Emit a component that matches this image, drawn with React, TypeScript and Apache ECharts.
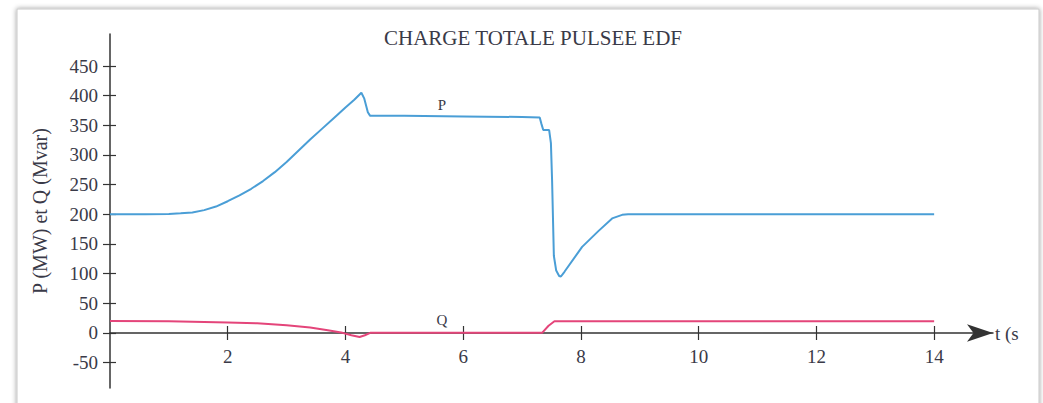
import React, { useEffect, useRef } from "react";
import * as echarts from "echarts";

const pTime = [0, 0.6, 1.0, 1.2, 1.4, 1.6, 1.8, 2.0, 2.2, 2.4, 2.6, 2.8, 3.0, 3.2, 3.4, 3.6, 3.8, 4.0, 4.15, 4.27, 4.32, 4.38, 4.42, 5.0, 6.0, 7.0, 7.3, 7.33, 7.36, 7.46, 7.49, 7.51, 7.54, 7.58, 7.63, 7.66, 7.72, 8.02, 8.3, 8.53, 8.7, 8.8, 14.0];
const pValue = [200, 200, 200.5, 201.5, 203, 207, 213, 222, 232, 243, 256, 271, 288, 307, 326, 344, 362, 380, 393, 405, 395, 372, 366, 366, 365, 364, 363, 352, 342, 342, 320, 257, 130, 105, 96, 95, 103, 145, 172, 193, 199, 200, 200];
const qTime = [0, 1, 2, 2.5, 3, 3.4, 3.7, 3.95, 4.1, 4.24, 4.33, 4.42, 5, 6, 7, 7.34, 7.45, 7.55, 8, 10, 12, 14];
const qValue = [20, 19.5, 17.5, 16, 13, 9, 4.5, 0, -4, -7, -4, 0, 0, 0, 0, 0, 12, 19.5, 19.5, 19.5, 19.5, 19.5];
const xTicks = [2, 4, 6, 8, 10, 12, 14];
const yTicks = [-50, 0, 50, 100, 150, 200, 250, 300, 350, 400, 450];

export default function App() {
  const ref = useRef<HTMLDivElement>(null);
  useEffect(() => {
    const chart = echarts.init(ref.current!, null, { renderer: "svg" });
    const font = "'Liberation Serif', 'Times New Roman', serif";
    const textColor = "#3a3a48";
    const axisColor = "#333333";
    const textStyle = { color: textColor, fontFamily: font, fontSize: 19 };
    const xOffset = -55;
    chart.setOption({
      animation: false,
      backgroundColor: "#ffffff",
      title: {
        text: "CHARGE TOTALE PULSEE EDF",
        left: 528,
        top: 22,
        textAlign: "center",
        textStyle: { color: textColor, fontFamily: font, fontSize: 21, fontWeight: "normal" },
      },
      grid: { left: 110, right: 50, top: 34, bottom: 15, containLabel: false, outerBoundsMode: "none" },
      xAxis: [
        {
          type: "value",
          min: 0,
          max: 15,
          position: "bottom",
          offset: xOffset,
          axisLine: {
            onZero: false,
            symbol: ["none", "arrow"],
            symbolSize: [13, 26],
            lineStyle: { color: axisColor, width: 1.5 },
          },
          axisTick: { customValues: xTicks, length: 7, inside: false, lineStyle: { color: axisColor, width: 1.2 } },
          axisLabel: { customValues: xTicks, margin: 14, ...textStyle },
          splitLine: { show: false },
        },
        {
          type: "value",
          min: 0,
          max: 15,
          position: "bottom",
          offset: xOffset,
          axisLine: { show: false, onZero: false },
          axisTick: { customValues: xTicks, length: 7, inside: true, lineStyle: { color: axisColor, width: 1.2 } },
          axisLabel: { show: false },
          splitLine: { show: false },
        },
      ],
      yAxis: [
        {
          type: "value",
          min: -93,
          max: 504,
          position: "left",
          name: "P (MW) et Q (Mvar)",
          nameLocation: "middle",
          nameGap: 60,
          nameRotate: 90,
          nameTextStyle: { ...textStyle, fontSize: 20 },
          axisLine: { show: true, onZero: false, lineStyle: { color: axisColor, width: 1.5 } },
          axisTick: { show: true, customValues: yTicks, length: 7, inside: false, lineStyle: { color: axisColor, width: 1.2 } },
          axisLabel: { customValues: yTicks, margin: 12, ...textStyle },
          splitLine: { show: false },
        },
        {
          type: "value",
          min: -93,
          max: 504,
          position: "left",
          axisLine: { show: false, onZero: false },
          axisTick: { show: true, customValues: yTicks, length: 6, inside: true, lineStyle: { color: axisColor, width: 1.2 } },
          axisLabel: { show: false },
          splitLine: { show: false },
        },
      ],
      graphic: [
        {
          type: "rect",
          z: -10,
          silent: true,
          shape: { x: 17, y: 9, width: 1022, height: 400 },
          style: { fill: "#ffffff", stroke: "#c8c8c8", lineWidth: 1, shadowBlur: 5, shadowColor: "rgba(0,0,0,0.4)" },
        },
        { type: "text", x: 442, y: 105, z: 10, style: { text: "P", fill: textColor, font: `15px ${font}`, textAlign: "center", textVerticalAlign: "middle" } },
        { type: "text", x: 442, y: 320, z: 10, style: { text: "Q", fill: textColor, font: `15px ${font}`, textAlign: "center", textVerticalAlign: "middle" } },
        { type: "text", x: 995, y: 333, z: 10, style: { text: "t (s", fill: textColor, font: `19px ${font}`, textAlign: "left", textVerticalAlign: "middle" } },
      ],
      series: [
        {
          name: "P",
          type: "line",
          xAxisIndex: 0,
          yAxisIndex: 0,
          showSymbol: false,
          symbol: "none",
          data: pTime.map((t, i) => [t, pValue[i]]),
          lineStyle: { color: "#4a9ed6", width: 2 },
          itemStyle: { color: "#4a9ed6" },
        },
        {
          name: "Q",
          type: "line",
          xAxisIndex: 0,
          yAxisIndex: 0,
          showSymbol: false,
          symbol: "none",
          data: qTime.map((t, i) => [t, qValue[i]]),
          lineStyle: { color: "#e4457a", width: 2 },
          itemStyle: { color: "#e4457a" },
        },
      ],
    });
    return () => chart.dispose();
  }, []);
  return <div ref={ref} style={{ position: "fixed", left: 0, top: 0, width: 1043, height: 403 }} />;
}
